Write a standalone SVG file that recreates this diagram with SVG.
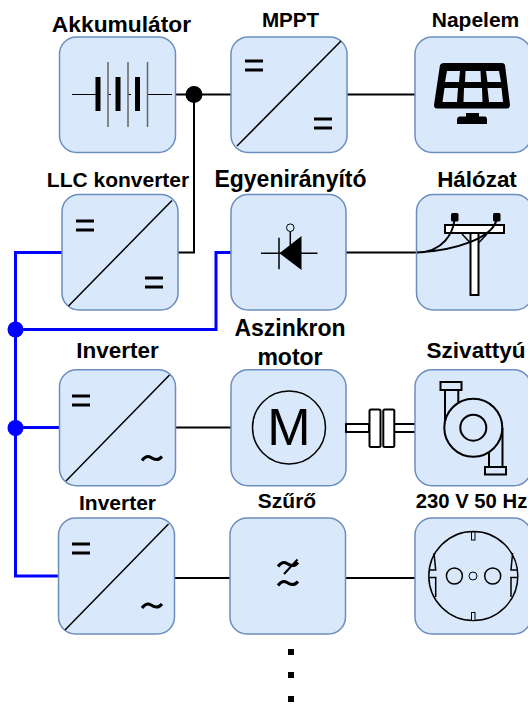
<svg xmlns="http://www.w3.org/2000/svg" width="528" height="705" viewBox="0 0 528 705">
<style>
.box{fill:#dae8fc;stroke:#6c8ebf;stroke-width:1.5}
.t{font-family:"Liberation Sans",Arial,sans-serif;font-weight:700;fill:#000;text-anchor:middle}
.k{fill:none;stroke:#000;stroke-width:1.5}
.k2{fill:none;stroke:#000;stroke-width:2}
.w{fill:#fff;stroke:#000;stroke-width:2}
.f{fill:#dae8fc;stroke:#000;stroke-width:2}
.b{fill:none;stroke:#0000ff;stroke-width:3}
.ln{stroke:#000;stroke-width:2;fill:none}
.eq{stroke:#000;stroke-width:3}
</style>
<defs>
<g id="eq"><path class="eq" d="M0 0H18M0 9H18"/></g>
<path id="tl" d="M0 3C3-1 6-2 9 0S16 4 20-1" fill="none" stroke="#000" stroke-width="3"/>
</defs>
<g id="connectors">
<path class="ln" d="M175 94.500H231"/>
<path class="ln" d="M178 252.500H194V94.500"/>
<path class="ln" d="M347 94.500H415"/>
<path class="ln" d="M346 252.500H417"/>
<path class="ln" d="M175.500 427.500H231"/>
<path class="ln" d="M174.500 578H230"/>
<path class="ln" d="M345.500 578H415"/>
<circle cx="194" cy="94.500" r="8.500" fill="#000"/>
<path class="b" d="M62 252.500H15.500V576H58.500"/>
<path class="b" d="M231 252.500H216V329.500H15.500"/>
<path class="b" d="M15.500 427.500H59.500"/>
<circle cx="15.500" cy="329.500" r="8" fill="#0000ff"/>
<circle cx="15.500" cy="428" r="8" fill="#0000ff"/>
</g>
<g id="akkumulator">
<rect class="box" x="59.500" y="37" width="116" height="115.500" rx="17"/>
<text class="t" x="121.500" y="31.500" font-size="22.800">Akkumulátor</text>
<path d="M72 94.500H96M108 94.500H111M128 94.500H131M147 94.500H172" stroke="#000" stroke-width="1"/>
<path d="M108 62V127M128 62V127M147.500 62V127" stroke="#666" stroke-width="1.500"/>
<path d="M98 77V111M118 77V111M137.500 77V111" stroke="#000" stroke-width="5"/>
</g>
<g id="mppt">
<rect class="box" x="231" y="37" width="116" height="115.500" rx="17"/>
<text class="t" x="290.500" y="27" font-size="20.600">MPPT</text>
<path class="k" d="M237 146L341 41"/>
<use href="#eq" x="245" y="61"/>
<use href="#eq" x="314" y="119"/>
</g>
<g id="napelem">
<rect class="box" x="415" y="37" width="116" height="115.500" rx="17"/>
<text class="t" x="475.500" y="27" font-size="21">Napelem</text>
<path d="M444 63H502Q504.500 63 505 65L510 105Q510 108.500 507 108.500H437Q434 108.500 434 105L440 65Q441 63 444 63ZM447 71L445 82H459L460 71ZM465.500 71L465 82H481L480.500 71ZM486 71L487.500 82H501L499 71ZM444.500 88L442.500 102H457L458 88ZM464 88L463.500 102H482.500L482 88ZM487.500 88L489 102H503L501.500 88Z" fill="#000" fill-rule="evenodd"/>
<path d="M466 113H479V116.500H485Q487 116.500 487 120V124H457V120Q457 116.500 460 116.500H466Z" fill="#000"/>
</g>
<g id="llc">
<rect class="box" x="62" y="194.500" width="116" height="115.500" rx="17"/>
<text class="t" x="118" y="186.500" font-size="21">LLC konverter</text>
<path class="k" d="M68.500 306L172 200.500"/>
<use href="#eq" x="76" y="221"/>
<use href="#eq" x="145" y="278"/>
</g>
<g id="egyenir">
<rect class="box" x="231" y="194.500" width="115" height="115.500" rx="17"/>
<text class="t" x="290.500" y="186.500" font-size="23">Egyenirányító</text>
<path d="M261 253.300H317.500M279 237.700V269.300M290.300 231.500V245" stroke="#000" stroke-width="1.500" fill="none"/>
<path d="M279.500 253.300L301.500 236V270Z" fill="#000"/>
<circle cx="290.300" cy="227.700" r="3.800" fill="#dae8fc" stroke="#000" stroke-width="1"/>
</g>
<g id="halozat">
<rect class="box" x="416.500" y="194.500" width="116" height="115.500" rx="17"/>
<text class="t" x="477" y="186.500" font-size="22.400">Hálózat</text>
<rect class="w" x="470.500" y="233" width="8" height="62"/>
<path class="k" d="M462 234L470.500 243M487 234L478.500 243"/>
<rect class="w" x="445" y="225" width="59" height="8"/>
<rect x="451" y="213" width="7.500" height="8.500" rx="1.500" fill="#000"/>
<rect x="493" y="213" width="7.500" height="8.500" rx="1.500" fill="#000"/>
<path class="k2" d="M454.500 220C453 232 444 252 417 252.500M496.500 220C492 238 455 251 417 252.500"/>
</g>
<g id="inverter1">
<rect class="box" x="59.500" y="369.700" width="116" height="116" rx="17"/>
<text class="t" x="117.500" y="358" font-size="22.500">Inverter</text>
<path class="k" d="M66 481L169.500 375"/>
<use href="#eq" x="72" y="396"/>
<use href="#tl" x="142" y="457.500"/>
</g>
<g id="motor">
<rect class="box" x="231" y="369.700" width="115" height="116" rx="17"/>
<text class="t" x="290" y="335.500" font-size="23">Aszinkron</text>
<text class="t" x="290" y="364.500" font-size="23">motor</text>
<circle class="k" cx="289" cy="427.500" r="36.500"/>
<text x="289" y="445" font-family="'Liberation Sans',Arial,sans-serif" font-size="52" text-anchor="middle" fill="#000">M</text>
</g>
<g id="tengely">
<rect class="w" x="346" y="424" width="23" height="8"/>
<rect class="w" x="394" y="424" width="22" height="8"/>
<rect class="w" x="369.500" y="409.500" width="11" height="37.500" rx="1.500"/>
<rect class="w" x="383.300" y="409.500" width="11" height="37.500" rx="1.500"/>
</g>
<g id="szivattyu">
<rect class="box" x="415" y="369.700" width="116" height="116" rx="17"/>
<text class="t" x="476" y="358" font-size="22.500">Szivattyú</text>
<path class="k2" d="M445 389V421M458.300 389V402"/>
<rect class="f" x="440.500" y="382" width="21" height="8"/>
<path class="k2" d="M502.500 428V467M489 453V467"/>
<rect class="f" x="485" y="467" width="21" height="7.500"/>
<circle class="k2" cx="473.300" cy="427.700" r="29"/>
<circle class="k2" cx="473.300" cy="427.700" r="13"/>
</g>
<g id="inverter2">
<rect class="box" x="58.500" y="518" width="116" height="116" rx="17"/>
<text class="t" x="117.500" y="510" font-size="21">Inverter</text>
<path class="k" d="M65 630L168.500 524"/>
<use href="#eq" x="72" y="544"/>
<use href="#tl" x="142" y="605"/>
</g>
<g id="szuro">
<rect class="box" x="230" y="518" width="115.500" height="116" rx="17"/>
<text class="t" x="287" y="508" font-size="21">Szűrő</text>
<use href="#tl" x="278" y="563.500"/>
<use href="#tl" x="278" y="582.500"/>
<path d="M284 574L297.500 559.500" stroke="#000" stroke-width="2"/>
</g>
<g id="aljzat">
<rect class="box" x="415" y="518" width="116" height="116" rx="17"/>
<text class="t" x="471.500" y="508" font-size="20.300">230 V 50 Hz</text>
<circle class="k" cx="473.300" cy="576" r="44.500"/>
<path class="k" d="M434 553L435.700 570H429.300M429.300 577.500H435.700V597M512.600 553L511 570H517.300M517.300 577.500H511V597"/>
<rect x="471.500" y="532" width="3.500" height="8" fill="#dae8fc" stroke="#000" stroke-width="1"/>
<rect x="471.500" y="612.500" width="3.500" height="8" fill="#dae8fc" stroke="#000" stroke-width="1"/>
<circle class="k" cx="454.400" cy="576" r="8"/>
<circle class="k" cx="492.700" cy="576" r="8"/>
<circle cx="473" cy="576" r="4" fill="none" stroke="#000" stroke-width="1"/>
</g>
<g id="pontok">
<rect x="288" y="649" width="6" height="6" fill="#000"/>
<rect x="288" y="672" width="6" height="6" fill="#000"/>
<rect x="288" y="696" width="6" height="6" fill="#000"/>
</g>
</svg>
